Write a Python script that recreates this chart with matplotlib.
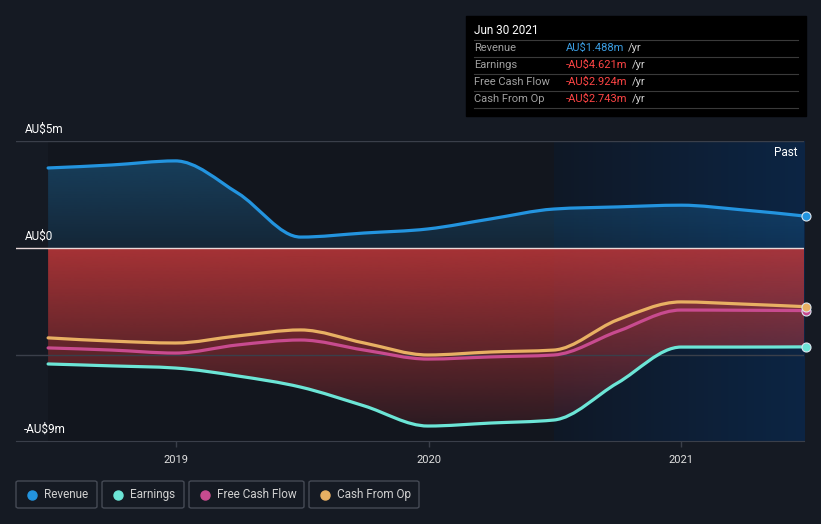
import numpy as np
import pandas as pd
import matplotlib.pyplot as plt
from matplotlib.patches import PathPatch, FancyBboxPatch
from matplotlib.path import Path
from matplotlib.colors import to_rgb

plt.rcParams['font.family'] = ['Roboto', 'DejaVu Sans']

dates = ["2018-06-30", "2018-09-30", "2018-12-31", "2019-03-31", "2019-06-30",
         "2019-09-30", "2019-12-31", "2020-03-31", "2020-06-30", "2020-09-30",
         "2020-12-31", "2021-03-31", "2021-06-30"]
revenue = [3.74, 3.88, 4.07, 2.57, 0.51, 0.70, 0.89, 1.36, 1.82, 1.92, 2.00, 1.78, 1.488]
earnings = [-5.42, -5.51, -5.61, -5.98, -6.50, -7.38, -8.32, -8.18, -8.04, -6.31, -4.63, -4.63, -4.621]
fcf = [-4.67, -4.77, -4.91, -4.53, -4.30, -4.77, -5.19, -5.09, -5.00, -3.90, -2.90, -2.91, -2.924]
cfo = [-4.20, -4.35, -4.44, -4.11, -3.83, -4.44, -5.00, -4.86, -4.77, -3.36, -2.52, -2.62, -2.743]

series_names = ["Revenue", "Earnings", "Free Cash Flow", "Cash From Op"]
series_colors = ["#2394df", "#6ce5d6", "#c84b8f", "#e8b063"]
table_values = ["AU$1.488m", "-AU$4.621m", "-AU$2.924m", "-AU$2.743m"]

d = pd.to_datetime(dates)
x = np.array(d.year + (d.dayofyear - 1) / 365.0)
past_start = x[8]

bg = "#151a23"
fig = plt.figure(figsize=(8.21, 5.24), dpi=100, facecolor=bg)
ax = fig.add_axes([16/821, 83/524, 788/821, 300/524])
ax.set_facecolor(bg)
xmin, xmax = 2018.366, 2021.487
ymin, ymax = -9.02, 5.0


def monotone_path(xs, ys):
    # smooth monotone-x curve through the points, drawn as bezier segments
    xs, ys = np.asarray(xs, float), np.asarray(ys, float)
    h = np.diff(xs)
    s = np.diff(ys) / h
    t = np.zeros(len(xs))
    for i in range(1, len(xs) - 1):
        if s[i-1] * s[i] > 0:
            p = (s[i-1] * h[i] + s[i] * h[i-1]) / (h[i-1] + h[i])
            t[i] = (np.sign(s[i-1]) + np.sign(s[i])) * min(abs(s[i-1]), abs(s[i]), 0.5 * abs(p))
    t[0] = (3 * s[0] - t[1]) / 2 if len(xs) > 2 else s[0]
    t[-1] = (3 * s[-1] - t[-2]) / 2 if len(xs) > 2 else s[-1]
    verts = [(xs[0], ys[0])]
    codes = [Path.MOVETO]
    for i in range(len(xs) - 1):
        dx = h[i] / 3
        verts += [(xs[i] + dx, ys[i] + t[i] * dx), (xs[i+1] - dx, ys[i+1] - t[i+1] * dx), (xs[i+1], ys[i+1])]
        codes += [Path.CURVE4] * 3
    return verts, codes


# plot area darker between data start and past region
ax.axvspan(x[0], past_start, color="#12161e", zorder=0, lw=0)
# past region gradient
grad = np.linspace(0, 1, 256).reshape(1, -1)
c0, c1 = np.array(to_rgb("#0f1826")), np.array(to_rgb("#0c2544"))
img = c0[None, None, :] * (1 - grad[..., None]) + c1[None, None, :] * grad[..., None]
ax.imshow(img, extent=[past_start, xmax, ymin, ymax], aspect='auto', zorder=0.5)


def grad_fill(xs, ys, color, a_top, a_bot, zorder):
    verts, codes = monotone_path(xs, ys)
    verts = verts + [(xs[-1], 0), (xs[0], 0), verts[0]]
    codes = codes + [Path.LINETO, Path.LINETO, Path.CLOSEPOLY]
    patch = PathPatch(Path(verts, codes), transform=ax.transData, facecolor='none', edgecolor='none')
    ax.add_patch(patch)
    lo, hi = min(min(ys), 0), max(max(ys), 0)
    n = 256
    g = np.zeros((n, 1, 4))
    g[:, 0, :3] = np.array(to_rgb(color))
    g[:, 0, 3] = np.linspace(a_top, a_bot, n)
    im = ax.imshow(g, extent=[xs[0], xs[-1], lo - 0.3, hi], aspect='auto', origin='upper', zorder=zorder)
    im.set_clip_path(patch)


grad_fill(x, revenue, "#2394df", 0.32, 0.12, 1)
grad_fill(x, earnings, "#c8393b", 0.82, 0.12, 1)

# gridlines
for yv in [5, -5]:
    ax.axhline(yv, color="#3a3f4a", lw=1, zorder=1.5)
ax.axhline(0, color="#e8d8d8", lw=1, zorder=3)

# lines
for vals, col in zip([revenue, earnings, fcf, cfo], series_colors):
    verts, codes = monotone_path(x, vals)
    ax.add_patch(PathPatch(Path(verts, codes), facecolor='none', edgecolor=col, lw=2.3,
                           capstyle='round', joinstyle='round', zorder=4))
    ax.plot(x[-1], vals[-1], 'o', ms=6.5, color=col, mec="#dde6f0", mew=0.8, zorder=5, clip_on=False)

ax.set_xlim(xmin, xmax)
ax.set_ylim(ymin, ymax)
ax.set_xticks([2019, 2020, 2021])
ax.set_xticklabels(["2019", "2020", "2021"])
ax.tick_params(axis='x', colors="#3a3f4a", labelcolor="#e0e0e0", labelsize=8, length=4, width=1, pad=6)
ax.set_yticks([])
for s in ["top", "left", "right"]:
    ax.spines[s].set_visible(False)
ax.spines["bottom"].set_color("#3a3f4a")

# y labels
ax.text(25/821, (524-129)/524, "AU$5m", transform=fig.transFigure, color="white", fontsize=8.5, va='center')
ax.text(25/821, (524-236)/524, "AU$0", transform=fig.transFigure, color="white", fontsize=8.5, va='center')
ax.text(24/821, (524-429)/524, "-AU$9m", transform=fig.transFigure, color="white", fontsize=8.5, va='center')
ax.text(797/821, (524-153)/524, "Past", transform=fig.transFigure, color="white", fontsize=8.5, va='center', ha='right')

# tooltip table
fig.patches.append(plt.Rectangle((466/821, (524-116)/524), 340/821, 100/524,
                                 transform=fig.transFigure, color="#000000", zorder=0))
fig.text(474/821, (524-31)/524, "Jun 30 2021", color="white", fontsize=8.5, va='center')
fig.canvas.draw()
renderer = fig.canvas.get_renderer()
for i, (name, val) in enumerate(zip(series_names, table_values)):
    yy = (524 - (48 + 17 * i)) / 524
    ysep = (524 - (40 + 17 * i)) / 524
    fig.add_artist(plt.Line2D([474/821, 798/821], [ysep, ysep], color="#3a3a3a", lw=0.8))
    fig.text(474/821, yy, name, color="#a0a0a0", fontsize=8, va='center')
    vcol = "#3b9ce0" if i == 0 else "#ff4545"
    t = fig.text(566/821, yy, val, color=vcol, fontsize=8, va='center')
    bb = t.get_window_extent(renderer=renderer)
    fig.text((bb.x1 + 4) / 821, yy, "/yr", color="#d0d0d0", fontsize=8, va='center')
yl = (524 - 108) / 524
fig.add_artist(plt.Line2D([474/821, 798/821], [yl, yl], color="#3a3a3a", lw=0.8))

# legend boxes
boxes = [(16, 97), (102, 184), (189, 304), (309, 419)]
for (bx0, bx1), name, col in zip(boxes, series_names, series_colors):
    fig.patches.append(FancyBboxPatch((bx0/821, (524-508)/524), (bx1-bx0)/821, 27/524,
                                      boxstyle="round,pad=0,rounding_size=0.003",
                                      transform=fig.transFigure, facecolor="none",
                                      edgecolor="#454a55", lw=1))
    fig.add_artist(plt.Line2D([(bx0 + 16)/821], [(524-494.5)/524], marker='o', ms=6.5,
                              color=col, lw=0))
    fig.text((bx0 + 28)/821, (524-494.5)/524, name, color="#d0d0d0", fontsize=8.5, va='center')

fig.savefig("out.png", dpi=100, facecolor=bg)
